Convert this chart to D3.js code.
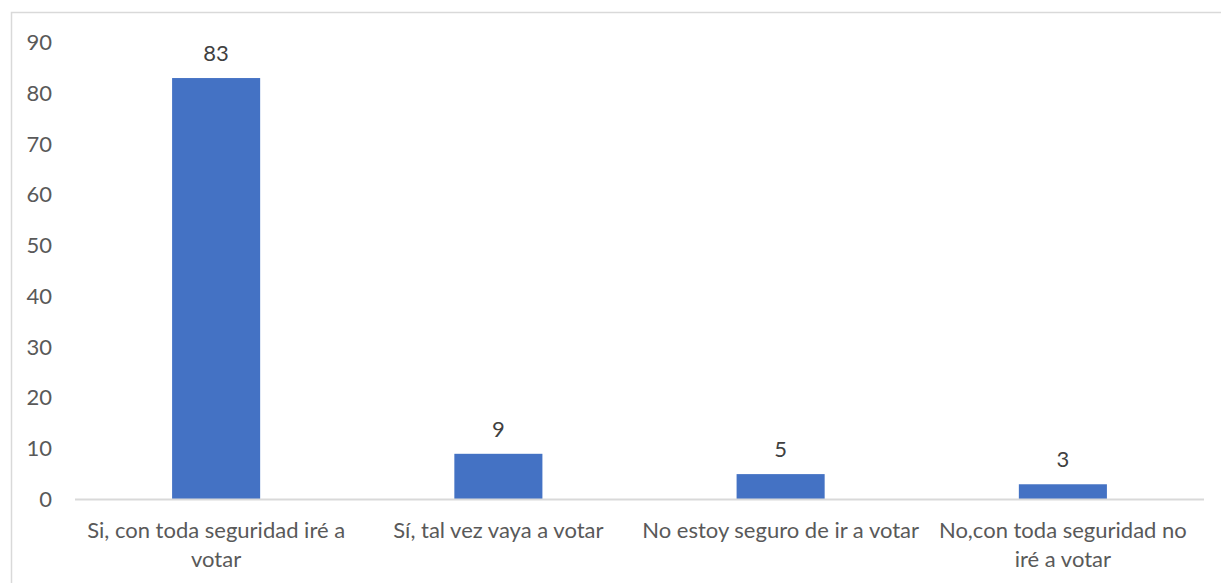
<!DOCTYPE html>
<html>
<head>
<meta charset="utf-8">
<script src="https://cdn.jsdelivr.net/npm/d3@7"></script>
<style>
  body { margin: 0; background: #fff; }
  text { font-family: Lato, "Open Sans", sans-serif; }
</style>
</head>
<body>
<svg id="chart"></svg>
<script>
// chart values
var categories = [
    "Si, con toda seguridad iré a\nvotar",
    "Sí, tal vez vaya a votar",
    "No estoy seguro de ir a votar",
    "No,con toda seguridad no\niré a votar"
];
var values = [83, 9, 5, 3];
var yTicks = [0, 10, 20, 30, 40, 50, 60, 70, 80, 90];

var width = 1221,
    height = 583;
var margin = {top: 42.5, right: 17, bottom: 83.5, left: 75},
    innerwidth = width - margin.left - margin.right,
    innerheight = height - margin.top - margin.bottom;

var svg = d3.select("#chart")
    .attr("width", width)
    .attr("height", height);

// chart area border (runs off the right and bottom edges)
svg.append("rect")
    .attr("x", 11.5)
    .attr("y", 12.5)
    .attr("width", width)
    .attr("height", height)
    .attr("fill", "none")
    .attr("stroke", "#d9d9d9")
    .attr("stroke-width", 1.5);

var g = svg.append("g")
    .attr("transform", "translate(" + margin.left + "," + margin.top + ")");

var x = d3.scaleBand()
    .domain(categories)
    .range([0, innerwidth])
    .paddingInner(0.688)
    .paddingOuter(0.344);

var y = d3.scaleLinear()
    .domain([0, 90])
    .range([innerheight, 0]);

// y axis labels, no line
var yAxis = g.append("g")
    .call(d3.axisLeft(y).tickValues(yTicks).tickSize(0).tickPadding(23));
yAxis.select(".domain").remove();
yAxis.selectAll("text")
    .attr("fill", "#595959")
    .style("font-size", "22px")
    .style("font-family", "Lato, 'Open Sans', sans-serif");

// bars
g.selectAll(".bar")
    .data(values)
    .enter().append("rect")
    .attr("class", "bar")
    .attr("x", function(d, i) { return x(categories[i]); })
    .attr("width", x.bandwidth())
    .attr("y", function(d) { return y(d); })
    .attr("height", function(d) { return innerheight - y(d); })
    .attr("fill", "#4472c4");

// baseline
g.append("line")
    .attr("x1", 0)
    .attr("x2", innerwidth)
    .attr("y1", y(0))
    .attr("y2", y(0))
    .attr("stroke", "#d9d9d9")
    .attr("stroke-width", 2);

// value labels
g.selectAll(".value")
    .data(values)
    .enter().append("text")
    .attr("class", "value")
    .attr("x", function(d, i) { return x(categories[i]) + x.bandwidth() / 2; })
    .attr("y", function(d) { return y(d) - 17; })
    .attr("text-anchor", "middle")
    .attr("fill", "#404040")
    .style("font-size", "22px")
    .text(function(d) { return d; });

// category labels
var xl = g.selectAll(".cat")
    .data(categories)
    .enter().append("text")
    .attr("class", "cat")
    .attr("transform", function(d) {
        return "translate(" + (x(d) + x.bandwidth() / 2) + "," + (innerheight + 38) + ")";
    })
    .attr("text-anchor", "middle")
    .attr("fill", "#595959")
    .style("font-size", "22px");

xl.selectAll("tspan")
    .data(function(d) { return d.split("\n"); })
    .enter().append("tspan")
    .attr("x", 0)
    .attr("dy", function(d, i) { return i === 0 ? 0 : 29; })
    .text(function(d) { return d; });
</script>
</body>
</html>
